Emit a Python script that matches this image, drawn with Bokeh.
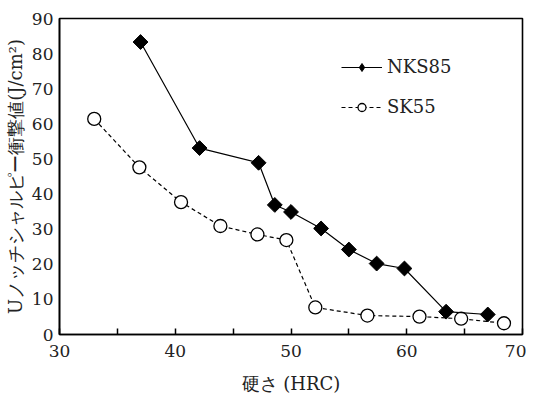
import numpy as np
from bokeh.plotting import figure
from bokeh.models import (ColumnDataSource, FixedTicker, Range1d, Legend, LegendItem)
from bokeh.embed import file_html
from bokeh.resources import INLINE

# Data
nks_x = [37.0, 42.1, 47.2, 48.6, 50.0, 52.6, 55.0, 57.4, 59.8, 63.4, 67.0]
nks_y = [83.3, 53.1, 48.9, 36.9, 34.9, 30.2, 24.2, 20.2, 18.8, 6.5, 5.7]
sk_x = [33.0, 36.9, 40.5, 43.9, 47.1, 49.6, 52.1, 56.6, 61.1, 64.7, 68.4]
sk_y = [61.4, 47.6, 37.7, 30.9, 28.5, 26.9, 7.7, 5.4, 5.1, 4.5, 3.2]
x_ticks = [30, 40, 50, 60, 70]
x_minor = [35, 45, 55, 65]
y_ticks = [0, 10, 20, 30, 40, 50, 60, 70, 80, 90]

SERIF = "DejaVu Serif"
TXT = "#222222"

p = figure(width=526, height=396, output_backend="svg", toolbar_location=None,
           x_range=Range1d(30, 70), y_range=Range1d(0, 90),
           min_border_left=59, min_border_right=4, min_border_top=18, min_border_bottom=62)
p.background_fill_color = "white"
p.border_fill_color = "white"
p.grid.visible = False
p.outline_line_color = "black"
p.outline_line_width = 1.6

p.xaxis.ticker = FixedTicker(ticks=x_ticks, minor_ticks=x_minor)
p.yaxis.ticker = FixedTicker(ticks=y_ticks)
for ax in (p.xaxis, p.yaxis):
    ax.axis_line_color = "black"
    ax.axis_line_width = 1.6
    ax.major_label_text_font = SERIF
    ax.major_label_text_font_size = "17px"
    ax.major_label_text_color = TXT
    ax.axis_label_text_font = SERIF
    ax.axis_label_text_font_style = "normal"
    ax.axis_label_text_color = TXT

p.xaxis.major_tick_in = 6
p.xaxis.major_tick_out = 0
p.xaxis.minor_tick_in = 6
p.xaxis.minor_tick_out = 0
p.xaxis.major_tick_line_width = 1.5
p.xaxis.minor_tick_line_width = 1.5
p.xaxis.major_tick_line_color = "black"
p.xaxis.minor_tick_line_color = "black"
p.xaxis.major_label_standoff = 10
p.xaxis.axis_label = "硬さ (HRC)"
p.xaxis.axis_label_text_font_size = "18px"
p.xaxis.axis_label_standoff = 13

p.yaxis.major_tick_in = 0
p.yaxis.major_tick_out = 0
p.yaxis.minor_tick_line_color = None
p.yaxis.major_label_standoff = 6
p.yaxis.axis_label = "Uノッチシャルピー衝撃値(J/cm²)"
p.yaxis.axis_label_text_font_size = "18px"
p.yaxis.axis_label_standoff = 3

src_n = ColumnDataSource(dict(x=nks_x, y=nks_y))
src_s = ColumnDataSource(dict(x=sk_x, y=sk_y))
legend_only = ColumnDataSource(dict(x=[np.nan], y=[np.nan]))

ls = p.line("x", "y", source=src_s, line_color="black", line_width=1.2, line_dash="4 3")
ms = p.scatter("x", "y", source=src_s, marker="circle", size=13, fill_color="white",
               line_color="black", line_width=1.3)
ln = p.line("x", "y", source=src_n, line_color="black", line_width=1.2)
mn = p.scatter("x", "y", source=src_n, marker="square", size=10.5, angle=np.pi / 4,
               fill_color="black", line_color="black", line_width=1)

mn_leg = p.scatter("x", "y", source=legend_only, marker="diamond", size=19,
                   fill_color="black", line_color="black", line_width=1)
ms_leg = p.scatter("x", "y", source=legend_only, marker="circle", size=12, fill_color="white",
                   line_color="black", line_width=1.3)

legend = Legend(items=[LegendItem(label="NKS85", renderers=[ln, mn_leg]),
                       LegendItem(label="SK55", renderers=[ls, ms_leg])],
                location=(282, 217), padding=0, margin=0, spacing=19,
                glyph_width=41, glyph_height=20, label_height=20, label_standoff=5,
                label_text_font=SERIF, label_text_font_size="18px", label_text_color=TXT,
                border_line_color=None, background_fill_alpha=0)
p.add_layout(legend)

open("out.html", "w").write(file_html(p, INLINE))
